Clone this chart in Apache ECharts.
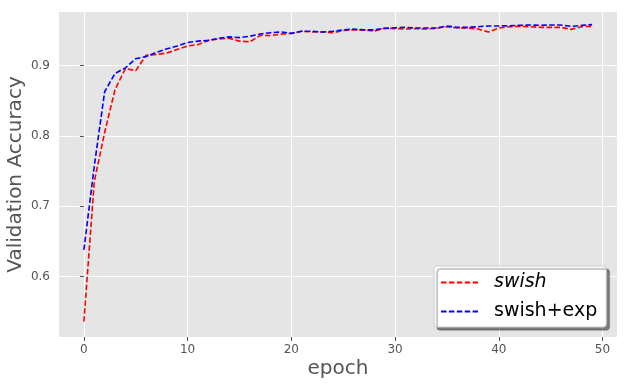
<!DOCTYPE html>
<html>
<head>
<meta charset="utf-8">
<script src="https://cdn.jsdelivr.net/npm/echarts@6/dist/echarts.min.js"></script>
<style>
html,body{margin:0;padding:0;background:#fff;}
#chart{width:626px;height:387px;}
</style>
</head>
<body>
<div id="chart"></div>
<script>
const epochs = Array.from({length: 50}, (_, i) => i);
const swish = [0.536,0.735,0.805,0.866,0.896,0.893,0.915,0.916,0.918,0.923,
  0.928,0.930,0.936,0.938,0.939,0.935,0.934,0.943,0.943,0.945,
  0.946,0.949,0.948,0.948,0.947,0.950,0.951,0.951,0.949,0.9536,
  0.9527,0.9522,0.9527,0.9522,0.9532,0.9555,0.9536,0.9536,0.9522,0.9479,
  0.9536,0.9555,0.956,0.9555,0.9546,0.9546,0.9546,0.9517,0.9555,0.956];
const swishExp = [0.638,0.757,0.863,0.889,0.897,0.910,0.913,0.919,0.924,0.928,
  0.933,0.935,0.936,0.939,0.941,0.940,0.942,0.945,0.947,0.948,
  0.946,0.949,0.949,0.948,0.949,0.951,0.952,0.951,0.951,0.953,
  0.954,0.9546,0.9536,0.9536,0.9536,0.9565,0.9546,0.9546,0.9555,0.9565,
  0.9565,0.9569,0.9574,0.9579,0.9574,0.9579,0.9579,0.956,0.9574,0.9584];
const xTicks = [0,10,20,30,40,50];
const yTicks = [0.6,0.7,0.8,0.9];
const seriesNames = ['swish','swish+exp'];

const FONT = 'DejaVu Sans';
const chart = echarts.init(document.getElementById('chart'), null, {renderer:'canvas'});
const dash = [5.5, 2.4];
chart.setOption({
  animation: false,
  backgroundColor: '#ffffff',
  grid: {left: 59, right: 9, top: 12, bottom: 50, show: true, backgroundColor: '#E5E5E5', borderWidth: 0,
         containLabel: false, outerBoundsMode: 'none'},
  xAxis: {
    type: 'value', min: -2.4, max: 51.4,
    name: 'epoch', nameLocation: 'middle', nameGap: 22, nameMoveOverlap: false,
    nameTextStyle: {fontFamily: FONT, fontSize: 20, color: '#555555'},
    axisLine: {show: false},
    axisTick: {show: true, length: 4, lineStyle: {color: '#555555', width: 1}, customValues: xTicks},
    axisLabel: {fontFamily: FONT, fontSize: 12, color: '#555555', margin: 7, customValues: xTicks},
    splitLine: {show: true, lineStyle: {color: '#ffffff', width: 1}}
  },
  yAxis: {
    type: 'value', min: 0.5142, max: 0.9764,
    name: 'Validation Accuracy', nameLocation: 'middle', nameGap: 33, nameRotate: 90, nameMoveOverlap: false,
    nameTextStyle: {fontFamily: FONT, fontSize: 20, color: '#555555'},
    axisLine: {show: false},
    axisTick: {show: true, length: 4, lineStyle: {color: '#555555', width: 1}, customValues: yTicks},
    axisLabel: {fontFamily: FONT, fontSize: 12, color: '#555555', margin: 9, customValues: yTicks,
      formatter: v => v.toFixed(1)},
    splitLine: {show: true, lineStyle: {color: '#ffffff', width: 1}}
  },
  legend: {
    left: 434, top: 266,
    orient: 'vertical',
    backgroundColor: '#ffffff',
    borderColor: '#cccccc', borderWidth: 1, borderRadius: 3,
    shadowColor: 'rgba(0,0,0,0.45)', shadowOffsetX: 3, shadowOffsetY: 3, shadowBlur: 1,
    padding: [7, 9, 6, 6],
    itemWidth: 37, itemHeight: 10, itemGap: 10,
    itemStyle: {color: 'transparent', borderWidth: 0, opacity: 0},
    data: seriesNames,
    formatter: n => n === 'swish' ? '{i|' + n + '}' : '{n|' + n + '}',
    textStyle: {
      fontFamily: FONT, fontSize: 19, color: '#000000',
      rich: {
        i: {fontFamily: FONT, fontSize: 19, fontStyle: 'italic', color: '#000', padding: [0,0,0,11], lineHeight: 22},
        n: {fontFamily: FONT, fontSize: 19, color: '#000', padding: [0,0,0,11], lineHeight: 22}
      }
    }
  },
  series: [
    {name: seriesNames[0], type: 'line', symbol: 'none', showSymbol: false,
     data: epochs.map((e, i) => [e, swish[i]]),
     itemStyle: {color: '#FF0000'},
     lineStyle: {color: '#FF0000', width: 1.6, type: dash}},
    {name: seriesNames[1], type: 'line', symbol: 'none', showSymbol: false,
     data: epochs.map((e, i) => [e, swishExp[i]]),
     itemStyle: {color: '#0000FF'},
     lineStyle: {color: '#0000FF', width: 1.6, type: dash}}
  ]
});
</script>
</body>
</html>
